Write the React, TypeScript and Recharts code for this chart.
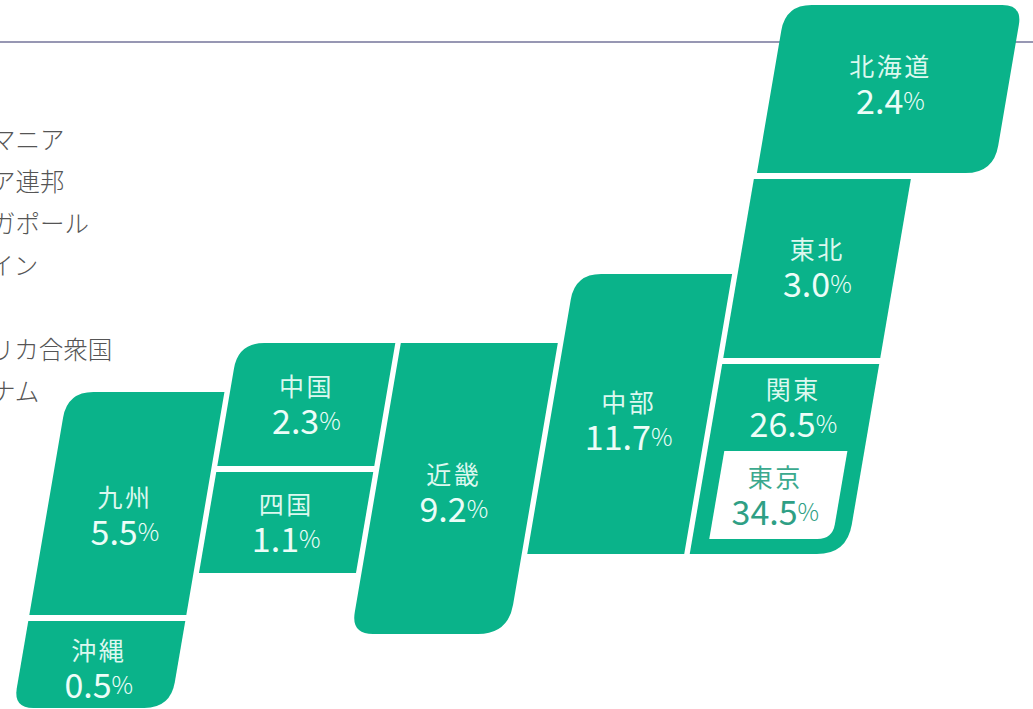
import { BarChart, Bar, XAxis, YAxis, ReferenceLine } from 'recharts'

const WIDTH = 1033
const HEIGHT = 709
const SHEAR = 0.171
const GREEN = '#0ab38a'
const FONT = '"Noto Sans CJK JP", "Noto Sans", sans-serif'

// the legend is cut off by the left edge of the picture
const countries = ['ルーマニア', 'ロシア連邦', 'シンガポール', 'スペイン', '', 'アメリカ合衆国', 'ベトナム']

const regions = ['北海道', '東北', '関東', '東京', '中部', '近畿', '中国', '四国', '九州', '沖縄']
const shares = [2.4, 3.0, 26.5, 34.5, 11.7, 9.2, 2.3, 1.1, 5.5, 0.5]

// cartogram layout, in axis units: column along x, rows along y
const columns = [4, 4, 4, 4, 3, 2, 1, 1, 0, 0]
const columnStarts = [0.013, 0, 0, 0.108, 0, 0, 0, 0, 0, 0]
const columnEnds = [1.52, 1, 1, 0.892, 1, 1, 1, 1, 1, 1]
const rowTops = [5, 179, 364, 451, 274, 343, 343, 472, 392, 621]
const rowBottoms = [173, 358, 554, 539, 554, 634, 466, 573, 615, 708]
const labelRows = [84, 267, 407, 495, 420, 492, 404, 522, 515, 668]

const tiles = regions.map((region, i) => ({
  region,
  share: shares[i],
  column: columns[i],
  start: columnStarts[i],
  end: columnEnds[i],
  rows: [rowTops[i], rowBottoms[i]],
  labelRow: labelRows[i],
}))

// top-left, top-right, bottom-right, bottom-left
const CORNERS: Record<string, number[]> = {
  北海道: [26, 20, 28, 0],
  関東: [0, 0, 30, 0],
  東京: [0, 0, 15, 0],
  中部: [26, 0, 0, 0],
  近畿: [0, 0, 30, 22],
  中国: [26, 0, 0, 0],
  九州: [26, 0, 0, 0],
  沖縄: [0, 0, 26, 20],
}

const shearX = (x: number, y: number) => x + SHEAR * (HEIGHT - y)

function tilePath(left: number, right: number, top: number, bottom: number, radii: number[]) {
  const pts = [
    [shearX(left, top), top],
    [shearX(right, top), top],
    [shearX(right, bottom), bottom],
    [shearX(left, bottom), bottom],
  ]
  let d = ''
  pts.forEach((p, i) => {
    const prev = pts[(i + 3) % 4]
    const next = pts[(i + 1) % 4]
    const r = radii[i]
    const lenA = Math.hypot(prev[0] - p[0], prev[1] - p[1])
    const lenB = Math.hypot(next[0] - p[0], next[1] - p[1])
    const a = [p[0] + ((prev[0] - p[0]) * r) / lenA, p[1] + ((prev[1] - p[1]) * r) / lenA]
    const b = [p[0] + ((next[0] - p[0]) * r) / lenB, p[1] + ((next[1] - p[1]) * r) / lenB]
    d += `${i === 0 ? 'M' : 'L'}${a[0]},${a[1]} Q${p[0]},${p[1]} ${b[0]},${b[1]} `
  })
  return d + 'Z'
}

function Tile(props: any) {
  const { x, y, width, height, payload } = props
  const { region, share, start, end, rows, labelRow } = payload
  // the y axis is reversed, so a range bar comes with a negative height
  const top = Math.min(y, y + height)
  const bottom = Math.max(y, y + height)
  const left = x + width * start
  const right = x + width * end
  const labelY = top + ((labelRow - rows[0]) * (bottom - top)) / (rows[1] - rows[0])
  const isTokyo = region === '東京'
  const labelX = shearX((left + right) / 2, labelY) + (isTokyo ? -3 : 0)
  const nameColor = isTokyo ? '#3ba98e' : '#dcf8ef'
  const valueColor = isTokyo ? '#2f9f85' : '#ecfdf8'
  return (
    <g>
      <path
        d={tilePath(left, right, top, bottom, CORNERS[region] || [0, 0, 0, 0])}
        fill={isTokyo ? '#ffffff' : GREEN}
      />
      <text
        x={labelX}
        y={labelY - 19.5}
        textAnchor="middle"
        dominantBaseline="central"
        fontFamily={FONT}
        fontSize={25}
        letterSpacing={2.5}
        fill={nameColor}
      >
        {region}
      </text>
      <text
        x={labelX}
        y={labelY + 15}
        textAnchor="middle"
        dominantBaseline="central"
        fontFamily={FONT}
        fill={valueColor}
      >
        <tspan fontSize={34}>{share.toFixed(1)}</tspan>
        <tspan fontSize={24} fontWeight={300}>%</tspan>
      </text>
    </g>
  )
}

export default function App() {
  return (
    <div style={{ position: 'absolute', left: 0, top: 0, width: WIDTH, height: HEIGHT, overflow: 'hidden', background: '#fff' }}>
      {countries.map((name, i) => (
        <div
          key={i}
          style={{
            position: 'absolute',
            left: -58,
            top: 122 + i * 42,
            lineHeight: '34px',
            fontFamily: FONT,
            fontSize: 24.5,
            fontWeight: 300,
            color: '#555',
            whiteSpace: 'nowrap',
          }}
        >
          {name}
        </div>
      ))}
      <BarChart
        width={WIDTH}
        height={HEIGHT}
        data={tiles}
        margin={{ top: 0, right: 0, bottom: 0, left: 0 }}
        style={{ position: 'absolute', left: 0, top: 0 }}
      >
        <XAxis hide type="number" dataKey="column" domain={[-0.563, 5.794]} />
        <YAxis hide type="number" domain={[0, HEIGHT]} reversed />
        <ReferenceLine y={42} stroke="#74749a" strokeWidth={1.5} zIndex={-100} />
        <Bar dataKey="rows" barSize={157} shape={Tile} isAnimationActive={false} />
      </BarChart>
    </div>
  )
}
